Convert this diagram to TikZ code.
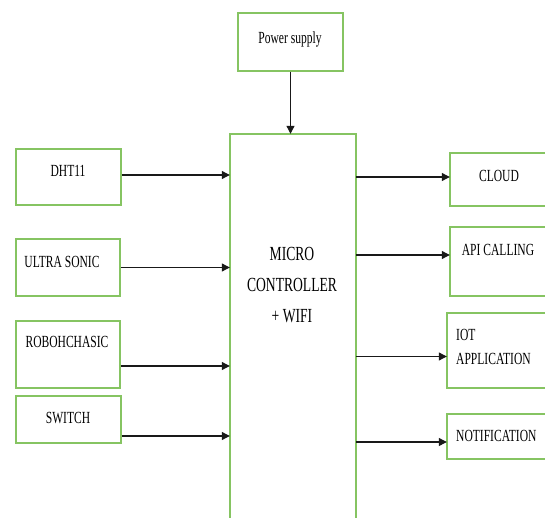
\documentclass[tikz,border=0pt]{standalone}
\usepackage{fontspec}
\setmainfont{Liberation Serif}
\usetikzlibrary{arrows.meta}
\definecolor{boxgreen}{RGB}{134,196,98}
\newcommand\narrowtxt[1]{\scalebox{0.68}[1]{#1}}
\tikzset{
  box/.style={draw=boxgreen, line width=1.5pt, inner sep=0pt},
  openbox/.style={inner sep=0pt},
  openline/.style={draw=boxgreen, line width=1.5pt},
  lab/.style={font=\fontsize{17}{24}\selectfont, inner sep=0pt},
  biglab/.style={font=\fontsize{20}{31}\selectfont, inner sep=0pt},
  arr/.style={-{Triangle[length=8pt,width=8pt]}, line width=1.1pt, draw=black!90},
}
\begin{document}
\begin{tikzpicture}[x=1pt,y=-1pt]
\useasboundingbox (0,0) rectangle (545,518);

% boxes
\node[box, minimum width=105pt, minimum height=58pt] (power) at (290.5,42) {};
\node[box, minimum width=105pt, minimum height=56pt] (dht) at (68.5,177) {};
\node[box, minimum width=104pt, minimum height=57pt] (ultra) at (68,267.5) {};
\node[box, minimum width=104pt, minimum height=67pt] (robo) at (68,354.5) {};
\node[box, minimum width=105pt, minimum height=47pt] (switch) at (68.5,419.5) {};

\node[openbox, minimum width=126pt, minimum height=384pt] (micro) at (293,326) {};
\draw[openline] (micro.south west) -- (micro.north west) -- (micro.north east) -- (micro.south east);

\node[openbox, minimum width=95pt, minimum height=53pt] (cloud) at (497.5,179.5) {};
\node[openbox, minimum width=95pt, minimum height=69pt] (api) at (497.5,261.5) {};
\node[openbox, minimum width=98pt, minimum height=75pt] (iot) at (496,350.5) {};
\node[openbox, minimum width=98pt, minimum height=45pt] (notif) at (496,436.5) {};
\foreach \b in {cloud,api,iot,notif}{
  \draw[openline] (\b.north east) -- (\b.north west) -- (\b.south west) -- (\b.south east);
}

% labels
\node[lab] (powerT) at (290,39) {\narrowtxt{Power supply}};
\node[lab] (dhtT) at (68,171) {\narrowtxt{DHT11}};
\node[lab] (ultraT) at (62,262) {\narrowtxt{ULTRA SONIC}};
\node[lab] (roboT) at (67,342) {\narrowtxt{ROBOHCHASIC}};
\node[lab] (switchT) at (68,418) {\narrowtxt{SWITCH}};
\node[lab] (cloudT) at (499,176) {\narrowtxt{CLOUD}};
\node[lab] (apiT) at (498,250) {\narrowtxt{API CALLING}};
\node[lab, anchor=west] (iotT) at (456,348) {\narrowtxt{\begin{tabular}{@{}l@{}}IOT\\APPLICATION\end{tabular}}};
\node[lab, anchor=west] (notifT) at (456,436) {\narrowtxt{NOTIFICATION}};
\node[biglab] (microT) at (292,285) {\narrowtxt{\begin{tabular}{@{}c@{}}MICRO\\CONTROLLER\\+ WIFI\end{tabular}}};

% arrows
\draw[arr] (power.south) -- (power.south |- micro.north);

\coordinate (i1) at ([yshift=2pt]dht.east);
\coordinate (i2) at (ultra.east);
\coordinate (i3) at ([yshift=-11.5pt]robo.east);
\coordinate (i4) at ([yshift=-16.5pt]switch.east);
\foreach \c in {i1,i2,i3,i4}{
  \draw[arr] (\c) -- (\c -| micro.west);
}

\coordinate (o1) at (356,177);
\coordinate (o2) at (356,255);
\coordinate (o3) at (356,356.5);
\coordinate (o4) at (356,442);
\draw[arr] (o1) -- (o1 -| cloud.west);
\draw[arr] (o2) -- (o2 -| api.west);
\draw[arr] (o3) -- (o3 -| iot.west);
\draw[arr] (o4) -- (o4 -| notif.west);
\end{tikzpicture}
\end{document}
